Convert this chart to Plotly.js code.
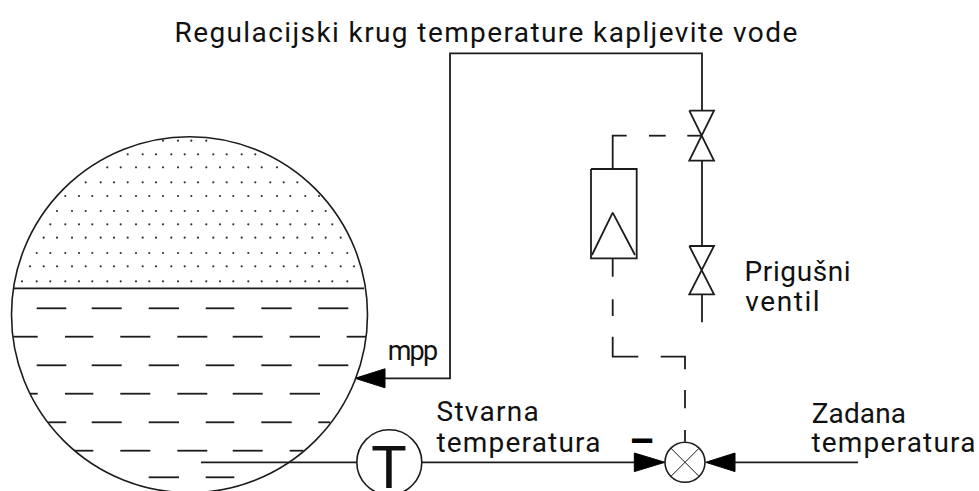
<!DOCTYPE html>
<html lang="en">
<head>
    <meta charset="UTF-8">
    <style>
        html, body, #plot {
            height: 100%;
            width: 100%;
            margin: 0;
            padding: 0;
            overflow: hidden;
            background: #ffffff;
        }
        /* Letter spacing per label, the original lettering is narrow and open */
        .annotation[data-index="0"] .annotation-text { letter-spacing: 1.4px; }
        .annotation[data-index="1"] .annotation-text { letter-spacing: -1.8px; }
        .annotation[data-index="2"] .annotation-text { letter-spacing: 1.3px; }
        .annotation[data-index="3"] .annotation-text { letter-spacing: 1.2px; }
        .annotation[data-index="4"] .annotation-text { letter-spacing: 0.6px; }
        .annotation[data-index="5"] .annotation-text { letter-spacing: 1.6px; }
        .annotation[data-index="6"] .annotation-text { letter-spacing: 0.1px; }
        .annotation[data-index="7"] .annotation-text { letter-spacing: 1.2px; }
    </style>
</head>
<body>
<div id="plot"></div>
<script src="https://cdn.plot.ly/plotly-3.0.1.min.js"></script>
<script>
    // Drawing values (x to the right, y downwards)
    const dotRowsY = [140.7, 154.3, 167.3, 182.3, 196, 211, 224.3, 237.7, 253, 266.3, 281.3];
    const dotColsA = [22, 36.7, 50.3, 65.3, 79, 92.3, 107.3, 120.7, 136, 149.3, 163, 178, 191.3, 206.3, 220, 233.3, 248.3, 261.7, 277, 290.3, 305.3, 319, 332.3, 347.3];
    const dotColsB = [30, 43.7, 57, 72, 85.7, 100.7, 114, 127.7, 142.7, 156, 171.3, 184.7, 198, 213.3, 226.7, 241.7, 255.3, 270.3, 283.7, 297.3, 312.3, 325.7, 340.7, 354];
    // which column set each dot row uses, and its first and last column
    const dotRowCols = ['A', 'B', 'A', 'B', 'A', 'B', 'A', 'B', 'A', 'B', 'A'];
    const dotRowFirst = [10, 7, 6, 4, 3, 2, 2, 1, 1, 0, 0];
    const dotRowLast = [13, 16, 18, 19, 21, 21, 22, 22, 23, 23, 23];

    // Liquid dashes: one row per y, pairs of x start / end
    const dashRowsY = [308.3, 336.7, 365.3, 393.7, 422.3, 450.7, 477.3];
    const dashRowsX = [
        [36.7, 66.3, 91.7, 121.7, 148.7, 179, 205.7, 234.3, 261.3, 291.7, 318.3, 348.3],
        [13.3, 37.7, 65, 93.3, 120.3, 150.3, 177.3, 207.3, 232.7, 262.7, 289.7, 320, 346.7, 366],
        [36.7, 66.3, 91.7, 121.7, 148.7, 179, 205.7, 234.3, 261.3, 291.7, 318.3, 348.3],
        [30, 37.7, 65, 93.3, 120.3, 150.3, 177.3, 207.3, 232.7, 262.7, 289.7, 320],
        [48.3, 66.3, 91.7, 121.7, 148.7, 179, 205.7, 234.3, 261.3, 291.7, 318.3, 330],
        [74.7, 93.3, 120.3, 150.3, 177.3, 207.3, 232.7, 262.7, 289.7, 303.3],
        [148.7, 179, 205.7, 234.3]
    ];

    // Solid pipe and signal lines, null breaks the path
    const lineX = [
        13.5, 364, null,
        385, 450, 450, 702, 702, null,
        689.3, 714, 689.3, 714, 689.3, null,
        702, 702, null,
        689.3, 714, 689.3, 714, 689.3, null,
        702, 702, null,
        591, 636.7, 636.7, 591, 591, null,
        592, 612.7, 635, null,
        201, 357, null,
        421.7, 634.3, null,
        735, 858
    ];
    const lineY = [
        288.3, 288.3, null,
        378.3, 378.3, 53.3, 53.3, 110.7, null,
        110.7, 110.7, 160.7, 160.7, 110.7, null,
        160.7, 246, null,
        246, 246, 294.3, 294.3, 246, null,
        294.3, 322.3, null,
        169, 169, 258.3, 258.3, 169, null,
        255, 212.7, 255, null,
        462.3, 462.3, null,
        462.3, 462.3, null,
        462.3, 462.3
    ];

    // Dashed actuator line
    const signalX = [
        612.7, 612.7, 626.7, null,
        649, 665.7, null,
        687.3, 701.7, null,
        612.7, 612.7, null,
        612.7, 612.7, null,
        612.7, 612.7, 638.3, null,
        660.7, 685, 685, null,
        685, 685, null,
        685, 685
    ];
    const signalY = [
        169, 135.7, 135.7, null,
        135.7, 135.7, null,
        135.7, 135.7, null,
        258.3, 276.7, null,
        299.3, 316, null,
        336.7, 356.7, 356.7, null,
        356.7, 356.7, 369.3, null,
        390, 408.3, null,
        430, 441.7
    ];

    // Cross inside the comparator
    const crossX = [670.9, 699.1, null, 670.9, 699.1];
    const crossY = [448.2, 476.4, null, 476.4, 448.2];

    // Arrow heads
    const arrowX = [355, 385, 385, 355, null, 665, 634.3, 634.3, 665, null, 705.7, 735, 735, 705.7];
    const arrowY = [378.3, 368.8, 387.8, 378.3, null, 462.3, 453, 471.6, 462.3, null, 462.3, 453, 471.6, 462.3];

    // Circles: tank, sensor, comparator
    const circleX = [189.5, 389.3, 685];
    const circleY = [314.7, 462.3, 462.3];
    const circleR = [178, 32.5, 20];

    // Labels, horizontal centre and baseline
    const labelText = ['Regulacijski krug temperature kapljevite vode', 'mpp', 'Stvarna', 'temperatura', 'Prigušni', 'ventil', 'Zadana', 'temperatura', 'T'];
    const labelX = [486.5, 412, 488.5, 519, 797.5, 782.5, 858.5, 893.5, 388.5];
    const labelY = [42, 360, 421, 452, 281, 311, 423, 452, 487];

    const ink = '#1c1c1c';
    const textFont = 'Roboto, sans-serif';

    function labelSize(text) {
        if (text === 'T') return 60;
        return text === 'mpp' ? 27 : 28;
    }

    function dotTrace() {
        const x = [];
        const y = [];
        dotRowsY.forEach((rowY, i) => {
            const cols = dotRowCols[i] === 'A' ? dotColsA : dotColsB;
            cols.slice(dotRowFirst[i], dotRowLast[i] + 1).forEach(colX => {
                x.push(colX);
                y.push(rowY);
            });
        });
        return {x: x, y: y, type: 'scatter', mode: 'markers', marker: {size: 2.2, color: '#333333'}};
    }

    function dashTrace() {
        const x = [];
        const y = [];
        dashRowsX.forEach((row, i) => {
            for (let k = 0; k < row.length; k += 2) {
                x.push(row[k], row[k + 1], null);
                y.push(dashRowsY[i], dashRowsY[i], null);
            }
        });
        return {x: x, y: y, type: 'scatter', mode: 'lines', line: {color: ink, width: 1.8}};
    }

    const traces = [
        dotTrace(),
        dashTrace(),
        {x: lineX, y: lineY, type: 'scatter', mode: 'lines', line: {color: ink, width: 1.8}},
        {x: signalX, y: signalY, type: 'scatter', mode: 'lines', line: {color: ink, width: 1.8}},
        {x: crossX, y: crossY, type: 'scatter', mode: 'lines', line: {color: ink, width: 1}},
        {x: arrowX, y: arrowY, type: 'scatter', mode: 'lines', fill: 'toself', fillcolor: '#000000', line: {color: '#000000', width: 1}}
    ];

    const shapes = circleX.map((cx, i) => ({
        type: 'circle',
        xref: 'x',
        yref: 'y',
        x0: cx - circleR[i],
        x1: cx + circleR[i],
        y0: circleY[i] - circleR[i],
        y1: circleY[i] + circleR[i],
        line: {color: ink, width: 1.6}
    }));

    const annotations = labelText.map((text, i) => ({
        text: text,
        x: labelX[i],
        y: labelY[i],
        xref: 'x',
        yref: 'y',
        xanchor: 'center',
        yanchor: 'bottom',
        yshift: -labelSize(text) * 0.26,
        showarrow: false,
        borderpad: 0,
        borderwidth: 0,
        font: {family: textFont, size: labelSize(text), color: '#111111'}
    }));
    annotations.push({
        text: '<b>\u2013</b>',
        x: 641.5,
        y: 441.5,
        xref: 'x',
        yref: 'y',
        showarrow: false,
        font: {family: textFont, size: 40, color: '#000000'}
    });

    const layout = {
        width: 979,
        height: 491,
        margin: {l: 0, r: 0, t: 0, b: 0, pad: 0},
        paper_bgcolor: '#ffffff',
        plot_bgcolor: '#ffffff',
        showlegend: false,
        xaxis: {range: [0, 979], visible: false, fixedrange: true},
        yaxis: {range: [491, 0], visible: false, fixedrange: true},
        shapes: shapes,
        annotations: annotations
    };

    Plotly.newPlot('plot', traces, layout, {displayModeBar: false, staticPlot: true});
</script>
</body>
</html>
